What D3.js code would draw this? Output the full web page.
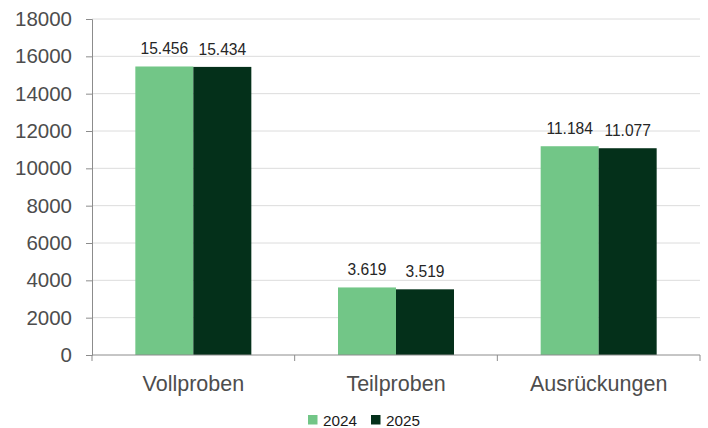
<!DOCTYPE html>
<html>
<head>
<meta charset="utf-8">
<script src="https://cdn.jsdelivr.net/npm/d3@7"></script>
<style>
  body { margin: 0; background: #fff; }
  svg { display: block; font-family: "Liberation Sans", Arial, sans-serif; }
</style>
</head>
<body>
<svg id="chart" width="708" height="428"></svg>
<script>
/*** DATA ***/
const categories = ['Vollproben', 'Teilproben', 'Ausrückungen'];
const years = ['2024', '2025'];
const values2024 = [15456, 3619, 11184];
const values2025 = [15434, 3519, 11077];
const yTicks = [0, 2000, 4000, 6000, 8000, 10000, 12000, 14000, 16000, 18000];

const colors = {'2024': '#72c687', '2025': '#04301a'};
const fmt = v => d3.format(',')(v).replace(/,/g, '.');

/*** DIMENSIONS ***/
const margin = {top: 19, right: 8, bottom: 73, left: 92};
const W = 708, H = 428;
const width = W - margin.left - margin.right;
const height = H - margin.top - margin.bottom;

const svg = d3.select('#chart');
const g = svg.append('g').attr('transform', `translate(${margin.left},${margin.top})`);

// SCALES
const x = d3.scaleBand().domain(categories).range([0, width]);
const x1 = d3.scaleBand().domain(years).range([0, 116]);
const y = d3.scaleLinear().domain([0, 18000]).range([height, 0]);

// GRID
g.append('g').selectAll('line')
  .data(yTicks.filter(d => d > 0))
  .enter().append('line')
    .attr('x1', 0).attr('x2', width)
    .attr('y1', d => y(d)).attr('y2', d => y(d))
    .attr('stroke', '#dcdcdc').attr('stroke-width', 1);

// Y AXIS
const yAxis = g.append('g')
  .call(d3.axisLeft(y).tickValues(yTicks).tickFormat(d3.format('d')).tickSize(6).tickPadding(14));
yAxis.select('.domain').attr('stroke', '#8c8c8c');
yAxis.selectAll('.tick line').attr('stroke', '#8c8c8c');
yAxis.selectAll('text').attr('fill', '#4d4d4d').style('font-size', '20.5px');

// BARS
const rows = categories.map((c, i) => ({cat: c, vals: [values2024[i], values2025[i]]}));
const groups = g.selectAll('g.cat')
  .data(rows)
  .enter().append('g')
    .attr('class', 'cat')
    .attr('transform', d => `translate(${x(d.cat) + (x.bandwidth() - 116) / 2},0)`);

groups.selectAll('rect')
  .data(d => d.vals.map((v, j) => ({year: years[j], v})))
  .enter().append('rect')
    .attr('x', d => x1(d.year))
    .attr('y', d => y(d.v))
    .attr('width', x1.bandwidth())
    .attr('height', d => height - y(d.v))
    .attr('fill', d => colors[d.year]);

groups.selectAll('text')
  .data(d => d.vals.map((v, j) => ({year: years[j], v})))
  .enter().append('text')
    .attr('x', d => x1(d.year) + x1.bandwidth() / 2)
    .attr('y', d => y(d.v) - 12)
    .attr('text-anchor', 'middle')
    .attr('fill', '#262626')
    .style('font-size', '15.6px')
    .text(d => fmt(d.v));

// X AXIS
const xAxisG = g.append('g').attr('transform', `translate(0,${height})`);
xAxisG.append('line').attr('x1', 0).attr('x2', width).attr('stroke', '#8c8c8c');
xAxisG.selectAll('line.tk')
  .data([0, ...categories.map(c => x(c) + x.bandwidth())])
  .enter().append('line')
    .attr('class', 'tk')
    .attr('x1', d => d).attr('x2', d => d)
    .attr('y1', 0).attr('y2', 6)
    .attr('stroke', '#8c8c8c');
xAxisG.selectAll('text')
  .data(categories)
  .enter().append('text')
    .attr('x', d => x(d) + x.bandwidth() / 2)
    .attr('y', 36)
    .attr('text-anchor', 'middle')
    .attr('fill', '#4d4d4d')
    .style('font-size', '21.5px')
    .text(d => d);

// LEGEND
const legend = svg.append('g').attr('transform', 'translate(308,415)');
const items = legend.selectAll('g')
  .data(years)
  .enter().append('g')
    .attr('transform', (d, i) => `translate(${i * 63},0)`);
items.append('rect').attr('width', 9.5).attr('height', 9.5).attr('fill', d => colors[d]);
items.append('text')
  .attr('x', 15).attr('y', 10.5)
  .attr('fill', '#1a1a1a')
  .style('font-size', '15.3px')
  .text(d => d);
</script>
</body>
</html>
